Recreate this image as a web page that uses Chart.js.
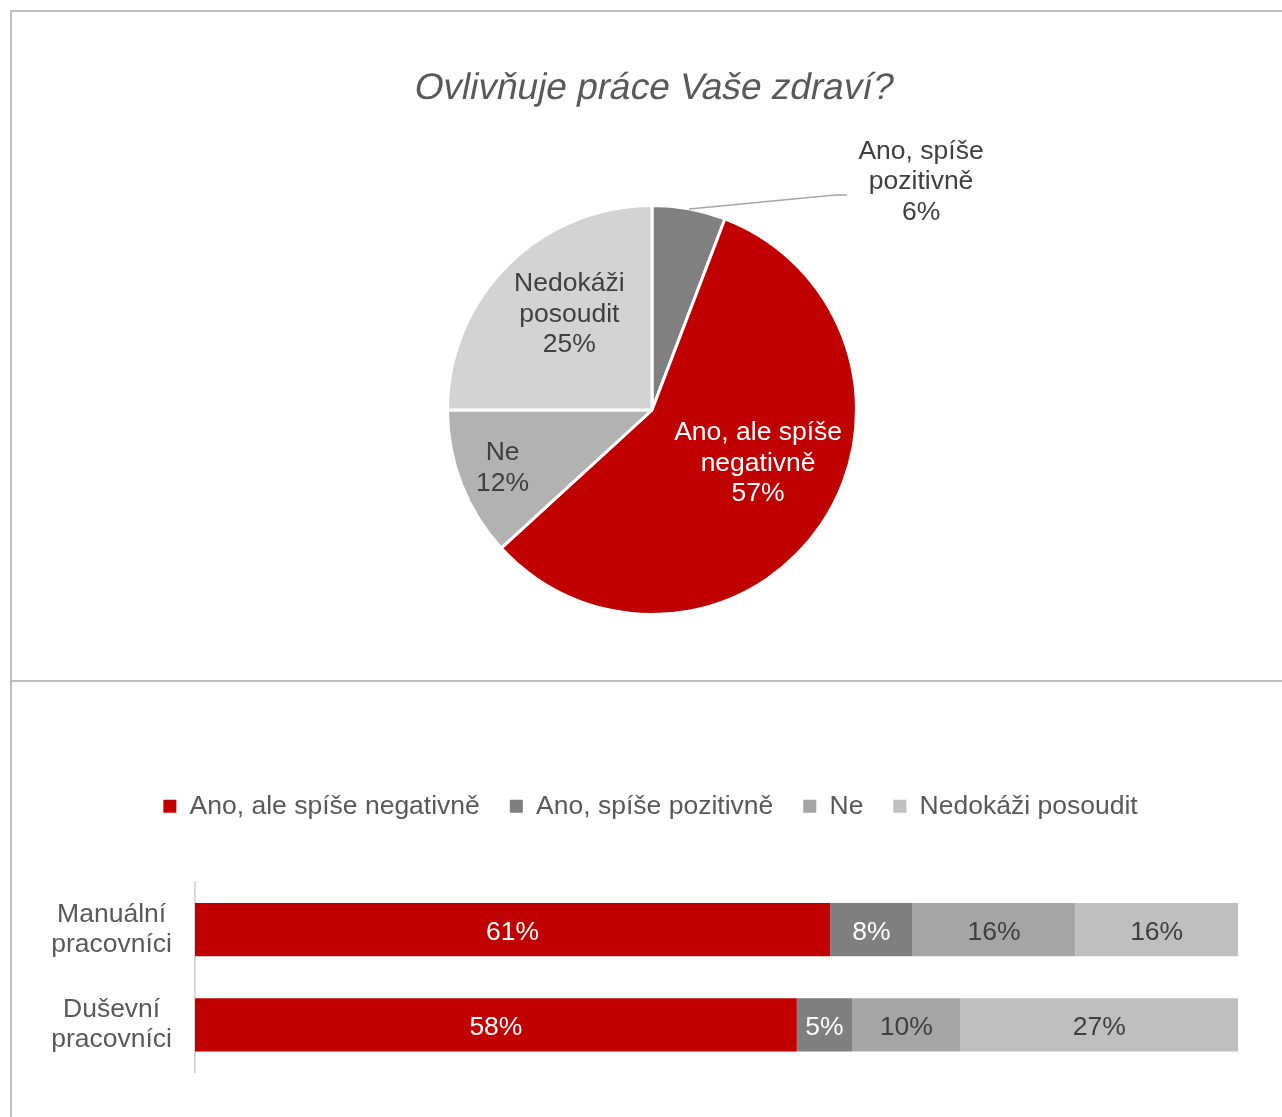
<!DOCTYPE html>
<html>
<head>
<meta charset="utf-8">
<script src="https://cdn.jsdelivr.net/npm/chart.js@4/dist/chart.umd.min.js"></script>
<style>
  body { margin: 0; background: #fff; width: 1282px; height: 1117px; overflow: hidden; position: relative; }
  #frame { position: absolute; left: 10px; top: 10px; width: 1300px; height: 1130px; border-left: 2px solid #bfbfbf; border-top: 2px solid #bfbfbf; }
  #divider { position: absolute; left: 10px; top: 680px; width: 1300px; height: 2px; background: #bfbfbf; }
  #pieChart { position: absolute; left: 10px; top: 10px; }
  #barChart { position: absolute; left: 10px; top: 681px; }
</style>
</head>
<body>
<div id="frame"></div>
<div id="divider"></div>
<canvas id="pieChart" width="1272" height="671"></canvas>
<canvas id="barChart" width="1272" height="445"></canvas>
<script>
// pie: Ovlivňuje práce Vaše zdraví?
const pieTitle = 'Ovlivňuje práce Vaše zdraví?'
const pieLabels = ['Ano, spíše pozitivně', 'Ano, ale spíše negativně', 'Ne', 'Nedokáži posoudit']
const pieValues = [5.8, 57.4, 11.8, 25.0]
const pieText = [['Ano, spíše', 'pozitivně'], ['Ano, ale spíše', 'negativně'], ['Ne'], ['Nedokáži', 'posoudit']]

// stacked bars by group
const groups = [['Manuální', 'pracovníci'], ['Duševní', 'pracovníci']]
const seriesNames = ['Ano, ale spíše negativně', 'Ano, spíše pozitivně', 'Ne', 'Nedokáži posoudit']
const negativne = [60.9, 57.7]
const pozitivne = [7.9, 5.3]
const ne = [15.6, 10.4]
const nedokazi = [15.6, 26.6]

const FONT = '"Liberation Sans", Arial, sans-serif'
Chart.defaults.font.family = FONT

const pieColors = ['#808080', '#c00000', '#b2b2b2', '#d3d3d3']
const pieTextColors = ['#404040', '#ffffff', '#404040', '#404040']
const pieLabelRadius = [null, 0.58, 0.784, 0.62]
const pieLabelNudge = [null, [8, -13], [0, 0], [7, -6]]

const barColors = ['#c00000', '#7f7f7f', '#a5a5a5', '#bfbfbf']
const barTextColors = ['#ffffff', '#ffffff', '#404040', '#404040']

// italic face is missing, so slant the regular one by hand
const pieTitlePlugin = {
    id: 'pieTitle',
    afterDraw(chart) {
        const ctx = chart.ctx
        const a = chart.chartArea
        ctx.save()
        ctx.font = '37px ' + FONT
        ctx.fillStyle = '#595959'
        ctx.textAlign = 'center'
        ctx.textBaseline = 'alphabetic'
        ctx.translate((a.left + a.right) / 2, 89)
        ctx.transform(1, 0, -0.2, 1, 0, 0)
        ctx.fillText(pieTitle, 0, 0)
        ctx.restore()
    }
}

const pieLabelPlugin = {
    id: 'pieLabels',
    afterDatasetsDraw(chart) {
        const ctx = chart.ctx
        const meta = chart.getDatasetMeta(0)
        const lineH = 30.5
        ctx.save()
        ctx.font = '26.5px ' + FONT
        ctx.textAlign = 'center'
        ctx.textBaseline = 'middle'
        meta.data.forEach((arc, i) => {
            const mid = (arc.startAngle + arc.endAngle) / 2
            const r = arc.outerRadius
            const lines = pieText[i].concat([Math.round(pieValues[i]) + '%'])
            let cx, cy
            if (pieLabelRadius[i] === null) {
                // outside label with leader line
                const ex = arc.x + Math.cos(mid) * r
                const ey = arc.y + Math.sin(mid) * r
                cx = ex + 232
                cy = ey - 27
                ctx.strokeStyle = '#a6a6a6'
                ctx.lineWidth = 1.5
                ctx.beginPath()
                ctx.moveTo(ex, ey)
                ctx.lineTo(cx - 86, cy + 13)
                ctx.lineTo(cx - 74, cy + 13)
                ctx.stroke()
            } else {
                cx = arc.x + Math.cos(mid) * r * pieLabelRadius[i] + pieLabelNudge[i][0]
                cy = arc.y + Math.sin(mid) * r * pieLabelRadius[i] + pieLabelNudge[i][1]
            }
            ctx.fillStyle = pieTextColors[i]
            const top = cy - (lines.length - 1) * lineH / 2
            lines.forEach((t, k) => ctx.fillText(t, cx, top + k * lineH))
        })
        ctx.restore()
    }
}

const barLabelPlugin = {
    id: 'barLabels',
    afterDatasetsDraw(chart) {
        const ctx = chart.ctx
        ctx.save()
        ctx.font = '26.5px ' + FONT
        ctx.textAlign = 'center'
        ctx.textBaseline = 'middle'
        chart.data.datasets.forEach((ds, i) => {
            chart.getDatasetMeta(i).data.forEach((bar, j) => {
                const c = bar.getCenterPoint()
                ctx.fillStyle = barTextColors[i]
                ctx.fillText(Math.round(ds.data[j]) + '%', c.x, c.y + 3)
            })
        })
        ctx.restore()
    }
}

// legend sits a bit right of the plot's centre
const legendShift = {
    id: 'legendShift',
    afterLayout(chart) {
        chart.legend.left += 26.5
        chart.legend.right += 26.5
    }
}

new Chart(document.getElementById('pieChart'), {
    type: 'pie',
    data: {
        labels: pieLabels,
        datasets: [{
            data: pieValues,
            backgroundColor: pieColors,
            borderColor: '#ffffff',
            borderWidth: 3
        }]
    },
    options: {
        responsive: false,
        animation: false,
        layout: { padding: { left: 436, right: 424, top: 194, bottom: 65 } },
        plugins: {
            legend: { display: false },
            tooltip: { enabled: false },
            title: { display: false }
        }
    },
    plugins: [pieLabelPlugin, pieTitlePlugin]
})

const barSeries = [negativne, pozitivne, ne, nedokazi]

new Chart(document.getElementById('barChart'), {
    type: 'bar',
    data: {
        labels: groups,
        datasets: seriesNames.map((name, i) => ({
            label: name,
            data: barSeries[i],
            backgroundColor: barColors[i],
            borderWidth: 0,
            categoryPercentage: 1,
            barPercentage: 0.56
        }))
    },
    options: {
        indexAxis: 'y',
        responsive: false,
        animation: false,
        layout: { padding: { left: 0, right: 44, top: 82, bottom: 0 } },
        plugins: {
            tooltip: { enabled: false },
            legend: {
                position: 'top',
                labels: {
                    boxWidth: 13,
                    boxHeight: 13,
                    padding: 30,
                    color: '#595959',
                    font: { size: 26.5 }
                }
            }
        },
        scales: {
            x: {
                stacked: true,
                min: 0,
                max: 100,
                position: 'top',
                grid: { display: false },
                border: { display: false },
                ticks: { display: false },
                afterFit(s) { s.height = 52.5 }
            },
            y: {
                stacked: true,
                grid: { display: true, drawTicks: false, color: 'rgba(0,0,0,0)' },
                border: { display: true, color: '#d9d9d9', width: 2 },
                ticks: {
                    padding: 23,
                    crossAlign: 'center',
                    color: '#595959',
                    font: { size: 26.5, lineHeight: 1.15 }
                },
                afterFit(s) { s.width = 185 }
            }
        }
    },
    plugins: [barLabelPlugin, legendShift]
})
</script>
</body>
</html>
